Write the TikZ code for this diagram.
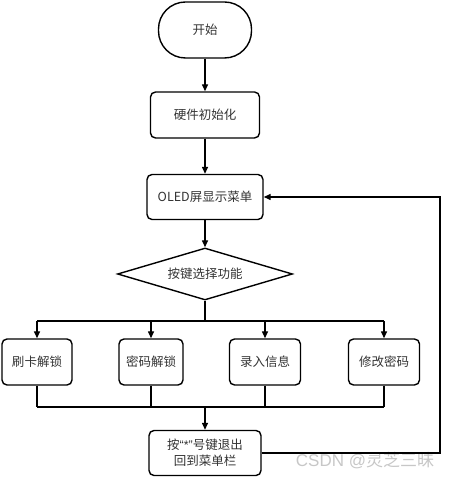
\documentclass[tikz,border=0pt]{standalone}
\usepackage{fontspec}
\setmainfont{Noto Sans CJK SC}
\newfontfamily\latinfont{Liberation Sans}
\usetikzlibrary{arrows.meta,shapes.geometric}

\begin{document}
\begin{tikzpicture}[x=1pt,y=1pt, line width=1.4pt, >={Triangle[length=7pt,width=6pt]},
        every node/.append style={font=\fontsize{12.5}{16}\selectfont, text=black!80}]
      \tikzstyle{step box} = [draw, rounded corners=5pt, minimum height=46pt, align=center, inner sep=2pt]
      \tikzstyle{terminal} = [draw, rounded corners=27pt, minimum width=93pt, minimum height=56pt]
      \tikzstyle{decision} = [draw, diamond, aspect=3.4, inner sep=0pt, minimum width=175pt, minimum height=52pt]
      \useasboundingbox (0,0) rectangle (449,478);
      \node (start) [terminal] at (205,448) {开始};
      \node (init) [step box, minimum width=109pt] at (205,363) {硬件初始化};
      \node (oled) [step box, minimum width=116pt, minimum height=45pt] at (205,281) {OLED屏显示菜单};
      \node (choose) [decision] at (205,204) {按键选择功能};
      \node (card) [step box, minimum width=70pt] at (37,116) {刷卡解锁};
      \node (pwd) [step box, minimum width=64pt] at (151,116) {密码解锁};
      \node (enroll) [step box, minimum width=71pt] at (265,116) {录入信息};
      \node (modify) [step box, minimum width=71pt] at (384,116) {修改密码};
      \node (exit) [step box, minimum width=112pt, minimum height=45pt] at (205,25)
        {按{\latinfont “*”}号键退出\\回到菜单栏};
      \node (mark) [text=black!22, font=\fontsize{17}{20}\selectfont] at (365,17) {{\latinfont CSDN @}灵芝三昧};
      \coordinate (split) at (205,157);
      \coordinate (merge) at (205,71);
      \coordinate (back) at (440,0);
      \draw[->] (start) -- (init);
      \draw[->] (init) -- (oled);
      \draw[->] (oled) -- (choose);
      \draw (choose) -- (split);
      \draw (split -| card) -- (split -| modify);
      \draw (card |- merge) -- (modify |- merge);
      \foreach \f in {card,pwd,enroll,modify}
        {
          \draw[->] (split -| \f) -- (\f);
          \draw (\f) -- (\f |- merge);
        }
      \draw[->] (merge) -- (exit);
      \draw[->] (exit.east) -- (exit.east -| back) -- (oled.east -| back) -- (oled.east);
    \end{tikzpicture}
\end{document}
